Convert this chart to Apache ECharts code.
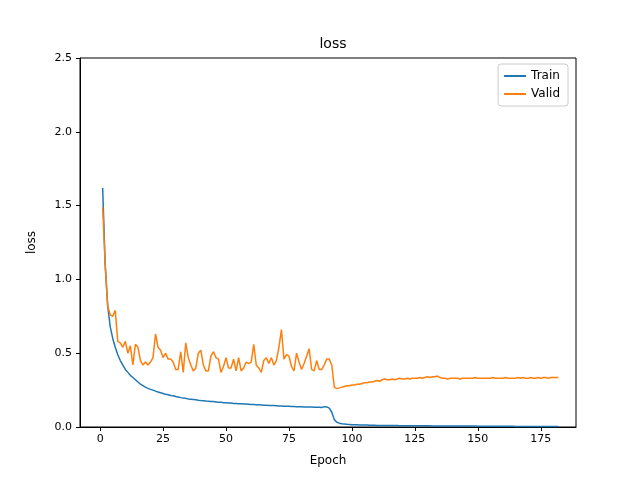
<!DOCTYPE html>
<html>
<head>
<meta charset="utf-8">
<script src="https://cdn.jsdelivr.net/npm/echarts@6/dist/echarts.min.js"></script>
<style>html,body{margin:0;padding:0;background:#fff}#main{width:640px;height:480px}</style>
</head>
<body>
<div id="main"></div>
<script>
// 训练损失, epoch 1..182
const trainLoss = [
  1.62,1.10,0.82,0.68,0.60,0.54,0.49,0.45,0.42,0.39,
  0.37,0.35,0.335,0.32,0.305,0.29,0.28,0.27,0.262,0.255,
  0.25,0.243,0.237,0.232,0.227,0.222,0.218,0.214,0.212,0.207,
  0.203,0.199,0.196,0.194,0.19,0.188,0.186,0.184,0.181,0.179,
  0.178,0.176,0.175,0.173,0.172,0.17,0.168,0.167,0.165,0.164,
  0.163,0.162,0.16,0.159,0.158,0.157,0.156,0.155,0.154,0.153,
  0.152,0.151,0.15,0.149,0.148,0.147,0.146,0.146,0.145,0.144,
  0.143,0.142,0.141,0.141,0.14,0.139,0.139,0.138,0.137,0.137,
  0.136,0.136,0.135,0.135,0.134,0.133,0.133,0.132,0.138,0.136,
  0.128,0.10,0.05,0.032,0.026,0.022,0.02,0.018,0.017,0.016,
  0.015,0.015,0.014,0.014,0.013,0.013,0.012,0.012,0.012,0.011,
  0.011,0.011,0.011,0.010,0.010,0.010,0.010,0.010,0.009,0.009,
  0.009,0.009,0.009,0.009,0.008,0.008,0.008,0.008,0.008,0.008,
  0.008,0.007,0.007,0.007,0.007,0.007,0.007,0.007,0.007,0.006,
  0.006,0.006,0.006,0.006,0.006,0.006,0.006,0.006,0.006,0.005,
  0.005,0.005,0.005,0.005,0.005,0.005,0.005,0.005,0.005,0.005,
  0.005,0.005,0.005,0.005,0.004,0.004,0.004,0.004,0.004,0.004,
  0.004,0.004,0.004,0.004,0.004,0.004,0.004,0.004,0.004,0.004,
  0.004,0.004
];
// 验证损失
const validLoss = [
  1.49,1.10,0.82,0.76,0.75,0.79,0.58,0.57,0.54,0.58,
  0.50,0.55,0.42,0.56,0.54,0.45,0.42,0.44,0.42,0.44,
  0.47,0.63,0.54,0.52,0.47,0.50,0.46,0.46,0.44,0.39,
  0.39,0.51,0.37,0.57,0.47,0.42,0.38,0.40,0.50,0.52,
  0.42,0.38,0.38,0.48,0.51,0.47,0.46,0.37,0.41,0.47,
  0.40,0.40,0.46,0.38,0.47,0.38,0.40,0.44,0.43,0.44,
  0.56,0.42,0.40,0.37,0.45,0.47,0.43,0.47,0.42,0.45,
  0.54,0.66,0.46,0.49,0.48,0.41,0.38,0.50,0.44,0.39,
  0.43,0.48,0.53,0.39,0.38,0.45,0.39,0.39,0.42,0.46,
  0.46,0.42,0.27,0.26,0.265,0.27,0.275,0.28,0.28,0.285,
  0.285,0.29,0.29,0.295,0.30,0.30,0.305,0.305,0.31,0.315,
  0.31,0.32,0.325,0.32,0.32,0.325,0.32,0.325,0.33,0.325,
  0.325,0.33,0.325,0.33,0.33,0.33,0.335,0.33,0.335,0.34,
  0.335,0.34,0.34,0.345,0.335,0.33,0.33,0.325,0.33,0.33,
  0.33,0.33,0.325,0.33,0.33,0.33,0.33,0.33,0.335,0.33,
  0.33,0.33,0.33,0.33,0.33,0.335,0.33,0.33,0.33,0.33,
  0.335,0.33,0.33,0.33,0.33,0.335,0.33,0.335,0.33,0.33,
  0.335,0.33,0.33,0.335,0.33,0.335,0.335,0.33,0.335,0.335,
  0.335,0.335
];
const xTicks = [0, 25, 50, 75, 100, 125, 150, 175];

const chart = echarts.init(document.getElementById('main'));
const font = 'DejaVu Sans';
chart.setOption({
  animation: false,
  textStyle: { fontFamily: font },
  title: {
    text: 'loss', left: 328, top: 32, textAlign: 'center',
    textStyle: { fontFamily: font, fontSize: 14, fontWeight: 'normal', color: '#000' }
  },
  legend: {
    right: 72, top: 64, orient: 'vertical', itemGap: 6,
    itemWidth: 22, itemHeight: 2, icon: 'rect',
    borderColor: '#ccc', borderWidth: 1, borderRadius: 3, padding: [6, 8, 6, 6],
    textStyle: { fontFamily: font, fontSize: 12, color: '#000' },
    data: ['Train', 'Valid']
  },
  // 四周边框
  grid: { left: 80, right: 64, top: 58, bottom: 53, show: true, borderColor: '#000', borderWidth: 1 },
  xAxis: {
    type: 'value', min: -8, max: 189,
    name: 'Epoch', nameLocation: 'middle', nameGap: 28,
    nameTextStyle: { fontFamily: font, fontSize: 12, color: '#000' },
    axisLine: { onZero: false, lineStyle: { color: '#000' } },
    axisTick: { show: true, length: 4, lineStyle: { color: '#000' }, customValues: xTicks },
    axisLabel: { color: '#000', fontSize: 11, fontFamily: font, margin: 7, customValues: xTicks },
    splitLine: { show: false }
  },
  yAxis: {
    type: 'value', min: 0, max: 2.5, interval: 0.5,
    name: 'loss', nameLocation: 'middle', nameGap: 42,
    nameTextStyle: { fontFamily: font, fontSize: 12, color: '#000' },
    axisLine: { show: true, onZero: false, lineStyle: { color: '#000' } },
    axisTick: { show: true, length: 4, lineStyle: { color: '#000' } },
    axisLabel: { color: '#000', fontSize: 11, fontFamily: font, formatter: v => v.toFixed(1) },
    splitLine: { show: false }
  },
  series: [
    { name: 'Train', type: 'line', showSymbol: false, color: '#1f77b4', lineStyle: { width: 1.5 },
      data: trainLoss.map((v, i) => [i + 1, v]) },
    { name: 'Valid', type: 'line', showSymbol: false, color: '#ff7f0e', lineStyle: { width: 1.5 },
      data: validLoss.map((v, i) => [i + 1, v]) }
  ]
});
</script>
</body>
</html>
